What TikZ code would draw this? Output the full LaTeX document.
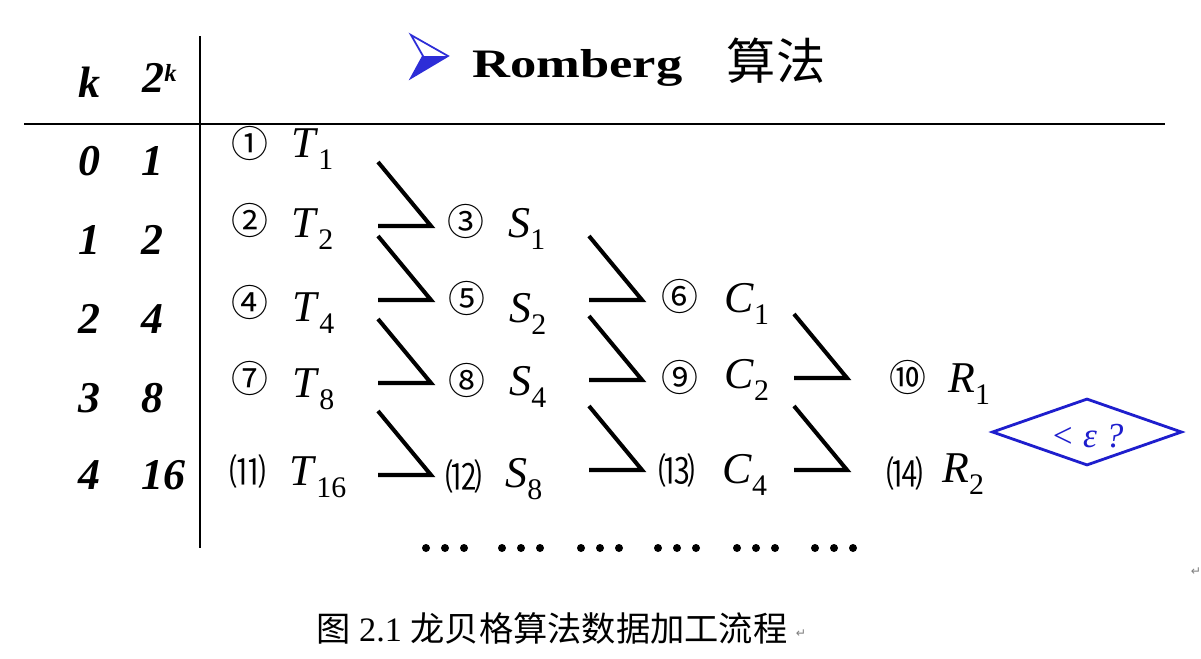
\documentclass[tikz,border=0pt]{standalone}
\usepackage{fontspec}
\setmainfont{Liberation Serif}
\newfontfamily\cjk{Noto Sans CJK SC}
\newfontfamily\symb{DejaVu Sans}
\usetikzlibrary{calc,shapes.geometric}

\definecolor{titleblue}{RGB}{45,45,215}
\definecolor{askblue}{RGB}{30,30,205}

% letter with a lowered index
\newcommand{\idx}[2]{\textit{#1}\raisebox{-7pt}{\fontsize{17}{17}\selectfont #2}}

\tikzset{
  num/.style={font=\cjk\fontsize{21}{21}\selectfont, inner sep=0pt},
  val/.style={font=\fontsize{25}{25}\selectfont, inner sep=0pt, anchor=base west},
  kcol/.style={font=\bfseries\itshape\fontsize{25}{25}\selectfont, inner sep=0pt, anchor=base west},
  link/.style={line width=2.3pt},
  rule/.style={line width=1.1pt}
}

\begin{document}
\begin{tikzpicture}[x=0.02cm,y=-0.02cm]
  \useasboundingbox (0,0) rectangle (1201,659);
  % table frame
  \draw[rule] (24,124) -- (1165,124);
  \draw[rule] (200,36) -- (200,548);
  % header
  \node[kcol] (hk) at (78,97) {k};
  \node[kcol] (hp) at (142,92) {2\raisebox{6pt}{\fontsize{14}{14}\selectfont k}};
  \foreach \k/\p/\y in {0/1/175,1/2/254,2/4/333,3/8/412,4/16/489}{
    \node[kcol] (k\k) at (78,\y) {\k};
    \node[kcol] (p\k) at (141,\y) {\p};
  }
  % title
  \draw[titleblue, line width=1pt, fill=white] (411,35) -- (448,56) -- (411,78) -- (423,56) -- cycle;
  \fill[titleblue] (423,56) -- (448,56) -- (411,78) -- cycle;
  \node[font=\bfseries\fontsize{23}{23}\selectfont, xscale=1.3, anchor=base west, inner sep=0pt] (title) at (472,77) {Romberg};
  \node[font=\cjk\fontsize{28}{28}\selectfont, inner sep=0pt] (suanfa) at (776,61) {算法};
  % entries
  \foreach \n/\c/\x/\y/\v/\s/\lx/\ly in {
      1/①/250/143/T/1/291/157, 2/②/250/220/T/2/291/237, 4/④/250/302/T/4/292/321,
      7/⑦/250/378/T/8/292/397, 11/⑾/248/471/T/16/289/485,
      3/③/466/221/S/1/508/237, 5/⑤/467/298/S/2/509/322, 8/⑧/467/380/S/4/509/395,
      12/⑿/464/476/S/8/505/487,
      6/⑥/680/296/C/1/724/312, 9/⑨/680/377/C/2/724/388, 13/⒀/677/470/C/4/722/483,
      10/⑩/908/377/R/1/948/392, 14/⒁/905/473/R/2/942/482}{
    \node[num] (n\n) at (\x,\y) {\c};
    \node[val] (\v\s) at (\lx,\ly) {\idx{\v}{\s}};
  }
  % joins
  \foreach \d/\tx/\ty in {3/-35/5, 5/-36/2, 8/-36/3, 12/-33/-1,
                          6/-38/4, 9/-38/3, 13/-35/0, 10/-61/1, 14/-58/-3}{
    \draw[link] ($(n\d)+(\tx,\ty)$) ++(-53,-64) -- ++(53,64) -- ++(-53,0);
  }
  \foreach \g in {426,502,581,658,737,815}
    \foreach \i in {0,1,2}
      \fill (\g+19*\i,548) circle (4);
  % stopping test
  \node[diamond, draw=askblue, line width=1.6pt, minimum width=3.8cm, minimum height=1.34cm,
        inner sep=0pt, text=askblue, font=\itshape\fontsize{20}{20}\selectfont] (test) at (1087,432)
    {\smash{\makebox[0pt]{\raisebox{-9pt}{< ε ?}}}};
  % caption
  \node[font=\fontsize{19.5}{19.5}\selectfont, anchor=west, inner sep=0pt] (cap) at (316,628)
    {{\cjk 图} 2.1 {\cjk 龙贝格算法数据加工流程}};
  \node[font=\symb\fontsize{7}{7}\selectfont, text=gray] (ret1) at (1196,572) {↵};
  \node[font=\symb\fontsize{7}{7}\selectfont, text=gray] (ret2) at (801,634) {↵};
\end{tikzpicture}
\end{document}
